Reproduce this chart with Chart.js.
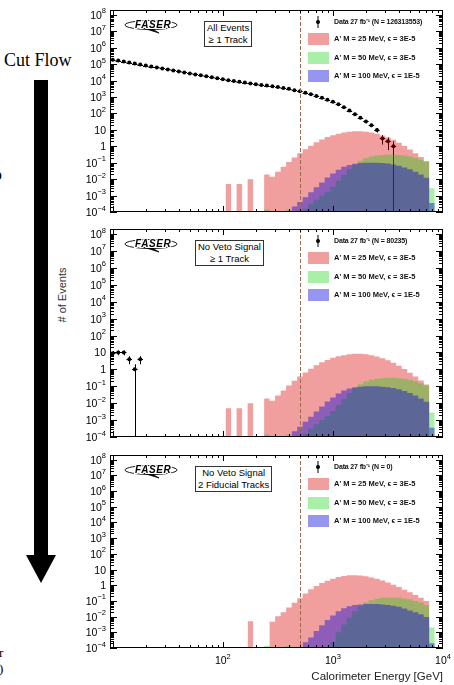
<!DOCTYPE html>
<html>
<head>
<meta charset="utf-8">
<script src="https://cdn.jsdelivr.net/npm/chart.js@4.4.1/dist/chart.umd.min.js"></script>
<style>
  html, body { margin: 0; padding: 0; background: #fff; }
  body { width: 454px; height: 685px; position: relative; overflow: hidden;
         font-family: "Liberation Sans", Arial, sans-serif; }
  .abs { position: absolute; }
  canvas { position: absolute; left: 80px; }
  .serif { font-family: "Liberation Serif", "DejaVu Serif", serif; }
  .cut { position: absolute; border: 1px solid #333; font-size: 9.5px; line-height: 12px;
         text-align: center; padding: 0 2px; background: #fff; white-space: nowrap; }
  .leg { position: absolute; font: bold 7.5px "Liberation Sans", Arial, sans-serif;
         white-space: nowrap; line-height: 9px; color: #111; }
  .leg.data { font-size: 7px; letter-spacing: -0.15px; }
  .sw { position: absolute; width: 21px; height: 12px; }
</style>
</head>
<body>

<div class="abs serif" style="left:4px;top:50px;font-size:18px;">Cut Flow</div>
<div class="abs serif" style="left:-7px;top:166px;font-size:16px;font-weight:bold;">p</div>
<div class="abs serif" style="left:-1px;top:645px;font-size:13px;">r</div>
<div class="abs serif" style="left:-1px;top:661px;font-size:13px;">)</div>
<svg class="abs" style="left:0;top:0" width="70" height="685">
  <rect x="34" y="80" width="14" height="478" fill="#000"/>
  <polygon points="26,555 56,555 41,583" fill="#000"/>
</svg>
<div class="abs" style="left:32px;top:289px;width:60px;font-size:11px;color:#333;text-align:center;transform:rotate(-90deg);white-space:nowrap;"># of Events</div>

<canvas id="p1" width="374" height="224" style="top:0px"></canvas>
<canvas id="p2" width="374" height="231" style="top:218px"></canvas>
<canvas id="p3" width="374" height="241" style="top:444px"></canvas>

<script>
// ---------------- data ----------------
// histogram binning: 0.05 in log10(E), bin k centred on 10^(1 + 0.05 k) GeV
const BIN_WIDTH_LOG = 0.05;
const FIRST_SIG_BIN = 20;           // signal arrays start at the ~100 GeV bin

// observed data, bins k = 0,1,2,...
const dataAllEvents = [190000, 166000, 144500, 126000, 110000, 95500, 83200, 72400, 63100, 55000,
  47900, 41700, 36300, 31600, 27500, 24000, 20900, 18200, 15800, 13800,
  12000, 10700, 9550, 8500, 7590, 6760, 6030, 5500, 5010, 4570,
  4070, 3550, 3160, 2630, 2240, 1820, 1480, 1175, 912, 692,
  513, 363, 240, 151, 91, 55, 33, 19, 10, 3, 2, 1];
const dataNoVeto = [9, 10, 10, 4, 1, 4];
const dataFiducial = [];

// signal expectations, bins k = 20 .. 58
const sig25_allEvents = [0, 5e-3, 0, 5e-3, 0, 0.01, 0, 0, 0.019, 0.014, 0.028, 0.056, 0.11, 0.21, 0.38,
  0.66, 1.1, 1.74, 2.63, 3.63, 4.79, 5.9, 6.9, 7.8, 8.3, 8.3, 7.8, 6.9, 5.75, 4.57,
  3.47, 2.5, 1.66, 1.05, 0.63, 0.38, 0.22, 0.126, 0];
const sig50_allEvents = [0, 0, 0, 0, 0, 0, 0, 0, 1.4e-4, 0, 0, 0, 1.4e-4, 0, 0,
  1.6e-4, 3.2e-4, 5.6e-4, 1e-3, 1.8e-3, 3.5e-3, 7.9e-3, 0.018, 0.04, 0.079, 0.13, 0.19, 0.24, 0.275, 0.3,
  0.316, 0.316, 0.3, 0.275, 0.24, 0.2, 0.15, 0.112, 2.8e-3];
const sig100_allEvents = [0, 0, 0, 0, 0, 0, 0, 0, 0, 0, 0, 0, 0, 2.2e-4, 4e-4,
  7.9e-4, 1.6e-3, 3.2e-3, 6.3e-3, 0.0126, 0.022, 0.038, 0.056, 0.074, 0.087, 0.095, 0.1, 0.1, 0.1, 0.095,
  0.089, 0.079, 0.066, 0.052, 0.04, 0.028, 0.019, 0.012, 3.5e-4];
const sig25_noVeto = sig25_allEvents;
const sig50_noVeto = sig50_allEvents;
const sig100_noVeto = sig100_allEvents;
const sig25_fiducial = [0, 0, 0, 0, 0, 5e-3, 0, 0, 0, 4.7e-3, 0.0105, 0.019, 0.038, 0.076, 0.15,
  0.3, 0.55, 0.89, 1.38, 1.95, 2.63, 3.3, 3.9, 4.27, 4.37, 4.17, 3.72, 3.16, 2.57, 2.0,
  1.48, 1.07, 0.76, 0.525, 0.355, 0.24, 0.158, 0.1, 0];
const sig50_fiducial = [0, 0, 0, 0, 0, 0, 0, 0, 1.4e-4, 0, 0, 0, 1.35e-4, 0, 0,
  0, 0, 0, 0, 0, 2.5e-4, 1e-3, 3.2e-3, 8.9e-3, 0.022, 0.045, 0.079, 0.112, 0.138, 0.158,
  0.166, 0.166, 0.158, 0.145, 0.126, 0.1, 0.079, 0.056, 2e-3];
const sig100_fiducial = [0, 0, 0, 0, 0, 0, 0, 0, 0, 0, 0, 0, 0, 0, 0,
  2.3e-4, 4.7e-4, 1.2e-3, 2.8e-3, 6e-3, 0.012, 0.022, 0.034, 0.046, 0.055, 0.06, 0.063, 0.063, 0.063, 0.06,
  0.056, 0.05, 0.042, 0.033, 0.025, 0.019, 0.014, 9.5e-3, 2e-4];

// tick labels: base text and superscript
const yTickValues = [1e-4, 1e-3, 1e-2, 1e-1, 1, 10, 1e2, 1e3, 1e4, 1e5, 1e6, 1e7, 1e8];
const yTickBase = ['10', '10', '10', '10', '1', '10', '10', '10', '10', '10', '10', '10', '10'];
const yTickExp = ['−4', '−3', '−2', '−1', '', '', '2', '3', '4', '5', '6', '7', '8'];
const xTickValues = [100, 1000, 10000];
const xTickBase = ['10', '10', '10'];
const xTickExp = ['2', '3', '4'];
const cutEnergy = 500;

const dataLabels = ['Data 27 fb⁻¹ (N = 126313553)', 'Data 27 fb⁻¹ (N = 80235)', 'Data 27 fb⁻¹ (N = 0)'];
const signalLabels = ["A' M = 25 MeV,  ϵ = 3E-5", "A' M = 50 MeV,  ϵ = 3E-5", "A' M = 100 MeV,  ϵ = 1E-5"];
const cutLabels = [['All Events', '≥ 1 Track'], ['No Veto Signal', '≥ 1 Track'], ['No Veto Signal', '2 Fiducial Tracks']];

// ---------------- style ----------------
const X_MIN = 9.44, X_MAX = 1e4, Y_MIN = 1e-4, Y_MAX = 2e8;
const sigColors = ['rgba(215,0,0,0.38)', 'rgba(0,211,0,0.34)', 'rgba(0,0,218,0.41)'];
const FONT = "'Liberation Sans', Arial, sans-serif";

Chart.defaults.font.family = FONT;
Chart.defaults.color = '#000';

function binEdge(k) { return Math.pow(10, 1 - BIN_WIDTH_LOG / 2 + BIN_WIDTH_LOG * k); }
function binCenter(k) { return Math.pow(10, 1 + BIN_WIDTH_LOG * k); }

// turn bin contents into a closed step outline for a filled line dataset
function histPoints(vals) {
  const pts = [];
  for (let i = 0; i < vals.length; i++) {
    const v = vals[i];
    if (!v) continue;
    const k = FIRST_SIG_BIN + i;
    if (!vals[i - 1]) pts.push({x: binEdge(k), y: Y_MIN});
    pts.push({x: binEdge(k), y: v}, {x: binEdge(k + 1), y: v});
    if (!vals[i + 1]) pts.push({x: binEdge(k + 1), y: Y_MIN});
  }
  return pts;
}

function framePlugin(counts, showX) {
  return {
    id: 'rootFrame',
    beforeDatasetsDraw(chart) {
      // error bars of the data, under the signal fills
      const {ctx, chartArea: a, scales: {x, y}} = chart;
      ctx.save();
      ctx.beginPath(); ctx.rect(a.left, a.top, a.width, a.height); ctx.clip();
      ctx.strokeStyle = '#000'; ctx.lineWidth = 1;
      counts.forEach((n, k) => {
        if (!n) return;
        const px = Math.round(x.getPixelForValue(binCenter(k))) + 0.5;
        const py = Math.round(y.getPixelForValue(n)) + 0.5;
        const err = Math.sqrt(n);
        const top = y.getPixelForValue(n + err);
        const bot = n - err > 0 ? y.getPixelForValue(n - err) : a.bottom;
        ctx.beginPath();
        ctx.moveTo(px, top); ctx.lineTo(px, bot);
        ctx.moveTo(x.getPixelForValue(binEdge(k)), py);
        ctx.lineTo(x.getPixelForValue(binEdge(k + 1)), py);
        ctx.stroke();
      });
      ctx.restore();
    },
    afterDatasetsDraw(chart) {
      const {ctx, chartArea: a, scales: {x, y}} = chart;
      ctx.save();
      // cut line
      const cx = Math.round(x.getPixelForValue(cutEnergy)) + 0.5;
      ctx.strokeStyle = '#9a6a50'; ctx.lineWidth = 1; ctx.setLineDash([4, 2]);
      ctx.beginPath(); ctx.moveTo(cx, a.top); ctx.lineTo(cx, a.bottom); ctx.stroke();
      ctx.setLineDash([]);
      // frame
      ctx.strokeStyle = '#000';
      ctx.strokeRect(Math.round(a.left) + 0.5, Math.round(a.top) + 0.5,
                     Math.round(a.width) - 1, Math.round(a.height) - 1);
      ctx.beginPath();
      // y ticks, mirrored on both sides
      for (let d = -4; d <= 8; d++) {
        for (let m = 1; m <= 9; m++) {
          const v = m * Math.pow(10, d);
          if (v < Y_MIN || v >= Y_MAX) continue;
          const py = Math.round(y.getPixelForValue(v)) + 0.5;
          const len = m === 1 ? 7 : 4;
          ctx.moveTo(a.left, py); ctx.lineTo(a.left + len, py);
          ctx.moveTo(a.right, py); ctx.lineTo(a.right - len, py);
        }
      }
      // x ticks, mirrored on top and bottom
      for (let d = 0; d <= 3; d++) {
        for (let m = 1; m <= 9; m++) {
          const v = m * Math.pow(10, d);
          if (v <= X_MIN || v >= X_MAX) continue;
          const px = Math.round(x.getPixelForValue(v)) + 0.5;
          const len = m === 1 ? 6 : 3;
          ctx.moveTo(px, a.bottom); ctx.lineTo(px, a.bottom - len);
          ctx.moveTo(px, a.top); ctx.lineTo(px, a.top + len);
        }
      }
      ctx.stroke();

      // tick labels with real superscripts, placed by the scales
      ctx.fillStyle = '#000';
      ctx.textBaseline = 'alphabetic';
      yTickValues.forEach((v, i) => {
        const py = y.getPixelForValue(v);
        const right = a.left - 4;
        ctx.font = '7.5px ' + FONT;
        const ew = yTickExp[i] ? ctx.measureText(yTickExp[i]).width : 0;
        ctx.textAlign = 'right';
        if (ew) ctx.fillText(yTickExp[i], right, py - 1.5);
        ctx.font = '10.5px ' + FONT;
        ctx.fillText(yTickBase[i], right - ew, py + 4);
      });
      if (showX) {
        xTickValues.forEach((v, i) => {
          const px = x.getPixelForValue(v);
          ctx.font = '10.5px ' + FONT;
          const bw = ctx.measureText(xTickBase[i]).width;
          ctx.font = '7.5px ' + FONT;
          const ew = ctx.measureText(xTickExp[i]).width;
          const x0 = px - (bw + ew) / 2;
          ctx.textAlign = 'left';
          ctx.fillText(xTickExp[i], x0 + bw, a.bottom + 11);
          ctx.font = '10.5px ' + FONT;
          ctx.fillText(xTickBase[i], x0, a.bottom + 16);
        });
      }
      ctx.restore();
    }
  };
}

function makePanel(id, counts, signals, opts) {
  const datasets = [{
    label: 'data',
    data: counts.map((n, k) => ({x: binCenter(k), y: n})),
    showLine: false,
    pointStyle: 'circle',
    pointRadius: 2,
    pointBackgroundColor: '#000',
    pointBorderWidth: 0,
    order: 10
  }];
  signals.forEach((vals, i) => {
    datasets.push({
      label: signalLabels[i],
      data: histPoints(vals),
      fill: 'start',
      backgroundColor: sigColors[i],
      borderColor: 'rgba(0,0,0,0)',
      borderWidth: 0,
      pointRadius: 0,
      tension: 0,
      order: 3 - i
    });
  });
  new Chart(document.getElementById(id), {
    type: 'line',
    data: {datasets},
    options: {
      responsive: false,
      animation: false,
      events: [],
      layout: {padding: {top: opts.padTop, right: 11, left: 0, bottom: 0}},
      plugins: {legend: {display: false}, tooltip: {enabled: false}},
      scales: {
        x: {
          type: 'logarithmic', min: X_MIN, max: X_MAX,
          afterBuildTicks: s => { s.ticks = xTickValues.map(v => ({value: v})); },
          afterFit: s => { s.height = opts.xHeight; },
          grid: {display: false, drawTicks: false},
          border: {display: false},
          ticks: {display: false},
          title: {
            display: opts.showX, text: 'Calorimeter Energy [GeV]', align: 'end',
            font: {size: 11.5}, color: '#222', padding: {top: 0, bottom: 1}
          }
        },
        y: {
          type: 'logarithmic', min: Y_MIN, max: Y_MAX,
          afterBuildTicks: s => { s.ticks = yTickValues.map(v => ({value: v})); },
          afterFit: s => { s.width = 30; },
          grid: {display: false, drawTicks: false},
          border: {display: false},
          ticks: {display: false}
        }
      }
    },
    plugins: [framePlugin(counts, opts.showX)]
  });
}

makePanel('p1', dataAllEvents, [sig25_allEvents, sig50_allEvents, sig100_allEvents], {padTop: 10, xHeight: 12, showX: false});
makePanel('p2', dataNoVeto, [sig25_noVeto, sig50_noVeto, sig100_noVeto], {padTop: 11, xHeight: 12, showX: false});
makePanel('p3', dataFiducial, [sig25_fiducial, sig50_fiducial, sig100_fiducial], {padTop: 11, xHeight: 37, showX: true});

// ---------------- in-frame annotations (logo, cut box, legend) ----------------
const frameTops = [10, 229, 455];
const cutBoxLefts = [204, 195, 195];
const swatchColors = ['#f09e9e', '#a8f0a8', '#9696f0'];

frameTops.forEach((T, p) => {
  const logo = document.createElementNS('http://www.w3.org/2000/svg', 'svg');
  logo.setAttribute('width', '58'); logo.setAttribute('height', '20');
  logo.setAttribute('class', 'abs');
  logo.style.left = '123px'; logo.style.top = (T + 6) + 'px';
  logo.innerHTML =
    '<ellipse cx="28" cy="9" rx="26" ry="4.5" fill="none" stroke="#000" stroke-width="0.9"/>' +
    '<path d="M20,12 L36,17 L30,13.5" fill="#000" stroke="#000" stroke-width="0.8"/>' +
    '<text x="12" y="12" font-family="Liberation Sans" font-weight="bold" font-style="italic" ' +
    'font-size="10" fill="#000" stroke="#fff" stroke-width="2.2" paint-order="stroke" letter-spacing="0.6">FASER</text>';
  document.body.appendChild(logo);

  const box = document.createElement('div');
  box.className = 'cut';
  box.style.left = cutBoxLefts[p] + 'px'; box.style.top = (T + 11) + 'px';
  box.innerHTML = cutLabels[p].join('<br>');
  document.body.appendChild(box);

  // data marker in legend
  const mk = document.createElementNS('http://www.w3.org/2000/svg', 'svg');
  mk.setAttribute('width', '8'); mk.setAttribute('height', '14');
  mk.setAttribute('class', 'abs');
  mk.style.left = '314px'; mk.style.top = (T + 5) + 'px';
  mk.innerHTML = '<line x1="4" y1="1" x2="4" y2="13" stroke="#000" stroke-width="1"/>' +
                 '<circle cx="4" cy="7" r="2" fill="#000"/>';
  document.body.appendChild(mk);
  const dl = document.createElement('div');
  dl.className = 'leg data';
  dl.style.left = '334px'; dl.style.top = (T + 7) + 'px';
  dl.textContent = dataLabels[p];
  document.body.appendChild(dl);

  signalLabels.forEach((txt, i) => {
    const cy = T + 29 + i * 18.5;
    const sw = document.createElement('div');
    sw.className = 'sw';
    sw.style.left = '308px'; sw.style.top = Math.round(cy - 6) + 'px';
    sw.style.background = swatchColors[i];
    document.body.appendChild(sw);
    const lt = document.createElement('div');
    lt.className = 'leg';
    lt.style.left = '334px'; lt.style.top = Math.round(cy - 5) + 'px';
    lt.textContent = txt;
    document.body.appendChild(lt);
  });
});
</script>
</body>
</html>
